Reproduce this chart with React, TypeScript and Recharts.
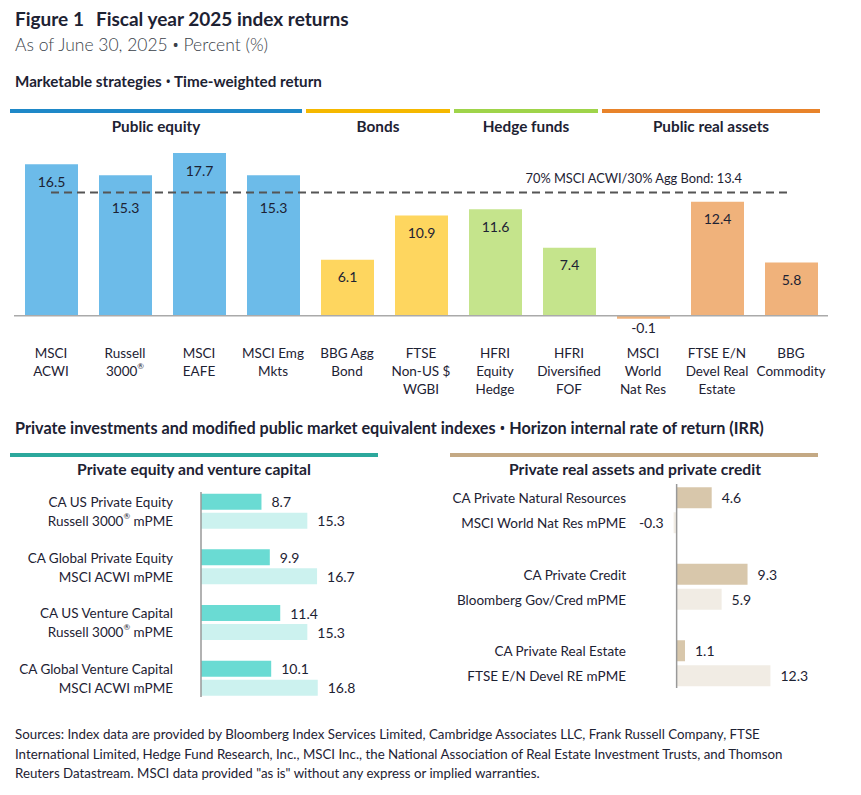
import React from "react";
import { BarChart, Bar, XAxis, YAxis, Cell, LabelList, ReferenceLine } from "recharts";

const FONT = "Lato, 'Noto Sans', sans-serif";
const INK = "#1d2233";
const LABEL_FS = 13.5;

// Marketable strategies
const mktCategories = [
  "MSCI\nACWI",
  "Russell\n3000®",
  "MSCI\nEAFE",
  "MSCI Emg\nMkts",
  "BBG Agg\nBond",
  "FTSE\nNon-US $\nWGBI",
  "HFRI\nEquity\nHedge",
  "HFRI\nDiversified\nFOF",
  "MSCI\nWorld\nNat Res",
  "FTSE E/N\nDevel Real\nEstate",
  "BBG\nCommodity",
];
const mktValues = [16.5, 15.3, 17.7, 15.3, 6.1, 10.9, 11.6, 7.4, -0.1, 12.4, 5.8];
const mktGroupOf = [0, 0, 0, 0, 1, 1, 2, 2, 3, 3, 3];
const mktGroups = ["Public equity", "Bonds", "Hedge funds", "Public real assets"];
const groupLineColors = ["#1e88c8", "#f5b800", "#9fd44a", "#e8832a"];
const groupBarColors = ["#6cbbe9", "#fed65f", "#c5e48c", "#f0b27b"];
const benchmarkLabel = "70% MSCI ACWI/30% Agg Bond";
const benchmarkValue = 13.4;

// Private equity and venture capital
const peNames = ["CA US Private Equity", "CA Global Private Equity", "CA US Venture Capital", "CA Global Venture Capital"];
const pePmeNames = ["Russell 3000® mPME", "MSCI ACWI mPME", "Russell 3000® mPME", "MSCI ACWI mPME"];
const peValues = [8.7, 9.9, 11.4, 10.1];
const pePmeValues = [15.3, 16.7, 15.3, 16.8];

// Private real assets and private credit
const raNames = ["CA Private Natural Resources", "CA Private Credit", "CA Private Real Estate"];
const raPmeNames = ["MSCI World Nat Res mPME", "Bloomberg Gov/Cred mPME", "FTSE E/N Devel RE mPME"];
const raValues = [4.6, 9.3, 1.1];
const raPmeValues = [-0.3, 5.9, 12.3];

const sourcesLines = [
  "Sources: Index data are provided by Bloomberg Index Services Limited, Cambridge Associates LLC, Frank Russell Company, FTSE",
  "International Limited, Hedge Fund Research, Inc., MSCI Inc., the National Association of Real Estate Investment Trusts, and Thomson",
  'Reuters Datastream. MSCI data provided "as is" without any express or implied warranties.',
];

// top chart geometry
const TOP = { y: 120, width: 861, left: 14, right: 33, top: 12, plotH: 202, axisH: 70, yMin: -2, yMax: 20 };
const unit = TOP.plotH / (TOP.yMax - TOP.yMin);
const benchY = TOP.top + (TOP.yMax - benchmarkValue) * unit;
const band = (TOP.width - TOP.left - TOP.right) / mktCategories.length;

const topData = mktCategories.map((name, i) => ({ name, value: mktValues[i], group: mktGroupOf[i] }));

function withReg(text: string) {
  const parts = text.split("®");
  if (parts.length === 1) return text;
  return [
    <tspan key="a">{parts[0]}</tspan>,
    <tspan key="r" fontSize="0.6em" dy={-5}>®</tspan>,
    parts[1] ? <tspan key="b" dy={5}>{parts[1]}</tspan> : null,
  ];
}

// small bullet like the original typeface
const Dot = () => <span style={{ fontFamily: "'Noto Sans', sans-serif", fontSize: "0.95em", fontWeight: 400 }}>•</span>;

function CategoryTick({ x, y, payload }: any) {
  const lines = String(payload.value).split("\n");
  return (
    <g>
      {lines.map((l, i) => (
        <text key={i} x={x} y={y + 19 + i * 18} textAnchor="middle" dominantBaseline="central" fontSize={LABEL_FS} fill={INK} fontFamily={FONT}>
          {withReg(l)}
        </text>
      ))}
    </g>
  );
}

function MktLabel(props: any) {
  const { x, y, width, height, value } = props;
  const cx = x + width / 2;
  let ly: number;
  if (value < 0) {
    ly = Math.max(y, y + height) + 9;
  } else {
    ly = Math.min(y, y + height) + 17;
    if (Math.abs(ly - benchY) < 11) ly = benchY + 15;
  }
  return (
    <text x={cx} y={ly} textAnchor="middle" dominantBaseline="central" fontSize={14} fill={INK} fontFamily={FONT}>
      {Number(value).toFixed(1)}
    </text>
  );
}

function BenchLabel(props: any) {
  const vb = props.viewBox || {};
  return (
    <text x={vb.x + vb.width - 49} y={vb.y - 15} textAnchor="end" dominantBaseline="central" fontSize={12.8} fill={INK} fontFamily={FONT}>
      {benchmarkLabel}: {benchmarkValue}
    </text>
  );
}

function MarketableChart() {
  return (
    <BarChart
      width={TOP.width}
      height={TOP.top + TOP.plotH + TOP.axisH}
      data={topData}
      margin={{ top: TOP.top, right: TOP.right, left: TOP.left, bottom: 0 }}
    >
      <XAxis dataKey="name" interval={0} axisLine={false} tickLine={false} tickSize={0} tickMargin={0} height={TOP.axisH} tick={<CategoryTick />} />
      <YAxis hide domain={[TOP.yMin, TOP.yMax]} allowDataOverflow />
      <Bar dataKey="value" barSize={53} minPointSize={3} isAnimationActive={false}>
        {topData.map((d) => (
          <Cell key={d.name} fill={groupBarColors[d.group]} />
        ))}
        <LabelList dataKey="value" content={<MktLabel />} />
      </Bar>
      <ReferenceLine y={0} stroke="#aaaaaa" strokeWidth={1.5} />
      <ReferenceLine
        segment={[
          { x: mktCategories[0], y: benchmarkValue },
          { x: mktCategories[mktCategories.length - 1], y: benchmarkValue },
        ]}
        stroke="#555555"
        strokeWidth={2}
        strokeDasharray="8 5"
        label={<BenchLabel />}
      />
    </BarChart>
  );
}

function ValueLabel(props: any) {
  const { x, y, width, height, value } = props;
  const cy = y + height / 2;
  const right = Math.max(x, x + width);
  const left = Math.min(x, x + width);
  const neg = value < 0;
  return (
    <text
      x={neg ? left - 10 : right + 10}
      y={cy}
      textAnchor={neg ? "end" : "start"}
      dominantBaseline="central"
      fontSize={14}
      fill={INK}
      fontFamily={FONT}
    >
      {Number(value).toFixed(1)}
    </text>
  );
}

type PairProps = {
  names: string[];
  pmeNames: string[];
  values: number[];
  pmeValues: number[];
  width: number;
  height: number;
  margin: { top: number; right: number; left: number; bottom: number };
  axisWidth: number;
  labelGap: number;
  lineOffset: number;
  domain: [number, number];
  padding: { top: number; bottom: number };
  barSize: number;
  barGap: number;
  colors: [string, string];
};

function PairChart(p: PairProps) {
  const data = p.names.map((n, i) => ({ key: n, ca: p.values[i], pme: p.pmeValues[i], pmeName: p.pmeNames[i] }));
  const Tick = ({ x, y, index }: any) => (
    <g fontFamily={FONT} fontSize={LABEL_FS} fill={INK}>
      <text x={x - p.labelGap} y={y - p.lineOffset} textAnchor="end" dominantBaseline="central">
        {withReg(p.names[index])}
      </text>
      <text x={x - p.labelGap} y={y + p.lineOffset} textAnchor="end" dominantBaseline="central">
        {withReg(p.pmeNames[index])}
      </text>
    </g>
  );
  return (
    <BarChart layout="vertical" width={p.width} height={p.height} data={data} margin={p.margin} barGap={p.barGap}>
      <XAxis type="number" hide domain={p.domain} allowDataOverflow />
      <YAxis
        type="category"
        dataKey="key"
        width={p.axisWidth}
        axisLine={false}
        tickLine={false}
        tickSize={0}
        tickMargin={0}
        interval={0}
        padding={p.padding}
        tick={<Tick />}
      />
      <Bar dataKey="ca" fill={p.colors[0]} barSize={p.barSize} minPointSize={3} isAnimationActive={false}>
        <LabelList dataKey="ca" content={<ValueLabel />} />
      </Bar>
      <Bar dataKey="pme" fill={p.colors[1]} barSize={p.barSize} minPointSize={3} isAnimationActive={false}>
        <LabelList dataKey="pme" content={<ValueLabel />} />
      </Bar>
      <ReferenceLine x={0} stroke="#999999" strokeWidth={1.5} />
    </BarChart>
  );
}

const abs = (left: number, top: number, extra: React.CSSProperties = {}): React.CSSProperties => ({
  position: "absolute",
  left,
  top,
  lineHeight: 1,
  whiteSpace: "nowrap",
  color: INK,
  ...extra,
});

export default function App() {
  const groupSpans = mktGroups.map((g, gi) => {
    const idx = mktGroupOf.map((v, i) => (v === gi ? i : -1)).filter((i) => i >= 0);
    const start = TOP.left + idx[0] * band - 4;
    const end = TOP.left + (idx[idx.length - 1] + 1) * band - 8;
    return { name: g, start, end, color: groupLineColors[gi] };
  });

  return (
    <div style={{ position: "absolute", left: 0, top: 0, width: 861, height: 795, background: "#fff", fontFamily: FONT, overflow: "hidden" }}>
      <div style={abs(15, 9, { fontSize: 19, fontWeight: 700 })}>
        Figure 1<span style={{ marginLeft: 12 }}>Fiscal year 2025 index returns</span>
      </div>
      <div style={abs(15, 36, { fontSize: 17.5, fontWeight: 300, color: "#3a3f4a" })}>
        As of June 30, 2025 <Dot /> Percent (%)
      </div>
      <div style={abs(15, 74, { fontSize: 15.2, fontWeight: 700 })}>
        Marketable strategies <Dot /> Time-weighted return
      </div>

      {groupSpans.map((g) => (
        <React.Fragment key={g.name}>
          <div style={{ position: "absolute", left: g.start, top: 109, width: g.end - g.start, height: 3.5, background: g.color }} />
          <div style={abs(g.start, 119, { width: g.end - g.start, textAlign: "center", fontSize: 15.3, fontWeight: 700 })}>{g.name}</div>
        </React.Fragment>
      ))}

      <div style={{ position: "absolute", left: 0, top: TOP.y }}>
        <MarketableChart />
      </div>

      <div style={abs(15, 420, { fontSize: 16.2, fontWeight: 700 })}>
        Private investments and modified public market equivalent indexes <Dot /> Horizon internal rate of return (IRR)
      </div>

      <div style={{ position: "absolute", left: 10, top: 453, width: 368, height: 3.5, background: "#2ca89c" }} />
      <div style={abs(10, 462, { width: 368, textAlign: "center", fontSize: 15.7, fontWeight: 700 })}>Private equity and venture capital</div>
      <div style={{ position: "absolute", left: 450, top: 453, width: 368, height: 3.5, background: "#c4a984" }} />
      <div style={abs(450, 462, { width: 370, textAlign: "center", fontSize: 15.7, fontWeight: 700 })}>Private real assets and private credit</div>

      <div style={{ position: "absolute", left: 0, top: 480 }}>
        <PairChart
          names={peNames}
          pmeNames={pePmeNames}
          values={peValues}
          pmeValues={pePmeValues}
          width={400}
          height={230}
          margin={{ top: 12, right: 60, left: 0, bottom: 13 }}
          axisWidth={201}
          labelGap={28}
          lineOffset={9.5}
          domain={[0, 20]}
          padding={{ top: -8.3, bottom: -9.3 }}
          barSize={16}
          barGap={3}
          colors={["#6adbd3", "#ccf2ef"]}
        />
      </div>

      <div style={{ position: "absolute", left: 430, top: 474 }}>
        <PairChart
          names={raNames}
          pmeNames={raPmeNames}
          values={raValues}
          pmeValues={raPmeValues}
          width={420}
          height={230}
          margin={{ top: 10, right: 59, left: 0, bottom: 16 }}
          axisWidth={239}
          labelGap={43}
          lineOffset={12.5}
          domain={[-1, 15]}
          padding={{ top: -11.75, bottom: -13.75 }}
          barSize={21}
          barGap={4}
          colors={["#d8c7ab", "#f1ece4"]}
        />
      </div>

      <div style={abs(15, 725, { fontSize: 13.3, lineHeight: "19.5px" })}>
        {sourcesLines.map((l, i) => (
          <div key={i}>{l}</div>
        ))}
      </div>
    </div>
  );
}
